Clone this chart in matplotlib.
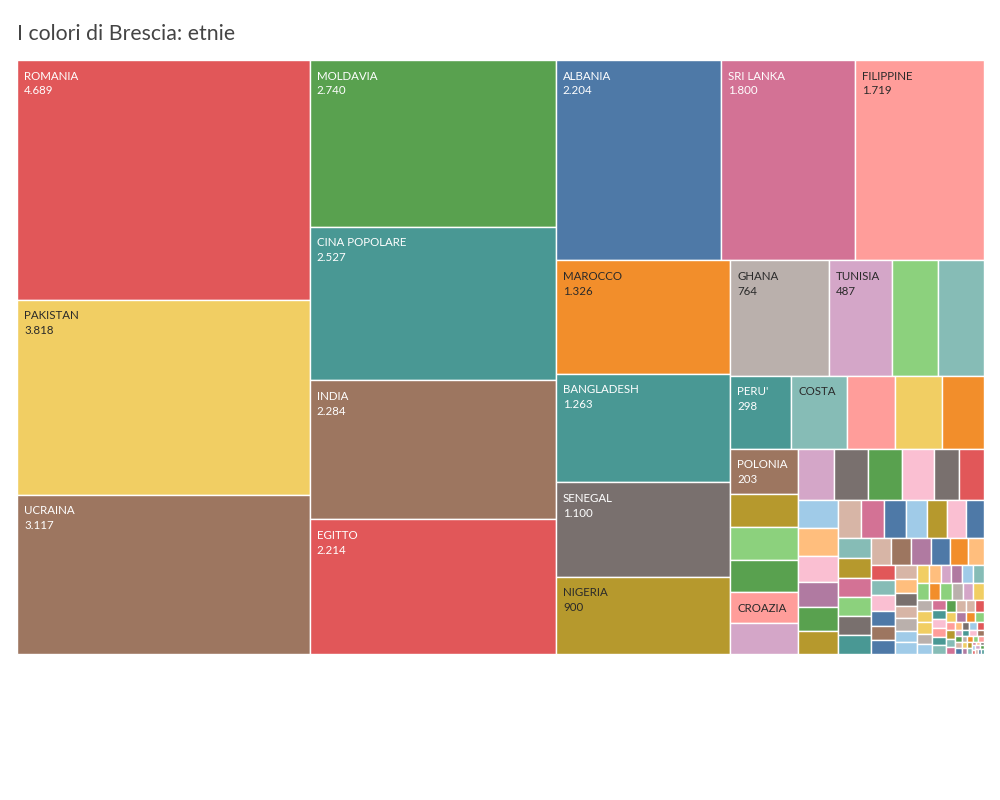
import matplotlib
matplotlib.use("Agg")
import matplotlib.pyplot as plt
from matplotlib.patches import Rectangle

plt.rcParams['font.family'] = ['Lato', 'DejaVu Sans']

TITLE = "I colori di Brescia: etnie"

# tiles in descending order (as Tableau lays them out)
names = [
    "ROMANIA", "PAKISTAN", "UCRAINA", "MOLDAVIA", "CINA POPOLARE", "INDIA",
    "EGITTO", "ALBANIA", "SRI LANKA", "FILIPPINE", "MAROCCO", "BANGLADESH",
    "SENEGAL", "NIGERIA", "GHANA", "TUNISIA", "", "", "PERU'", "COSTA",
    "", "", "", "POLONIA", "", "", "", "CROAZIA", "",
]
values = [
    4689, 3818, 3117, 2740, 2527, 2284,
    2214, 2204, 1800, 1719, 1326, 1263,
    1100, 900, 764, 487, 355, 354, 298, 269,
    234, 230, 205, 203, 152, 148, 144, 139, 138,
]
# small unlabelled tiles
small_values = [
    125, 118, 118, 111, 87, 87,
    75, 75, 70, 67, 64, 62,
    58, 58, 56, 53, 51, 48, 46,
    44, 44, 43, 42, 42, 41,
    36, 36, 36, 34, 31, 29,
    25, 25, 25, 25, 23, 23,
    21, 20, 19, 18, 18, 17, 17,
    14, 14, 13, 13, 13, 13,
    13, 13, 13, 13, 12, 12,
    11, 11, 11, 10, 10,
    9, 9, 8, 8, 8, 8,
    8, 8, 7, 7,
    7, 7, 6, 6, 5, 5, 5, 4, 4, 4, 4, 4, 3, 3, 3, 3, 3, 3, 3,
    2, 2, 2, 2, 2, 2, 2, 2, 1, 1, 1, 1, 1, 1, 1, 1, 1, 1,
]
name_only = {"COSTA", "CROAZIA"}

# strips as Tableau builds them: 'c' = column at the left, 'r' = row on top,
# with the number of tiles in each; whatever is left is plain squarify
strips = [('c', 3), ('c', 4), ('r', 3), ('c', 4), ('r', 4), ('r', 5), ('c', 6),
          ('r', 6), ('c', 6), ('r', 7), ('c', 6), ('r', 6), ('c', 6), ('c', 7),
          ('r', 6), ('r', 6), ('c', 5), ('c', 6), ('r', 4)]

T = {
    'blue': '#4E79A7', 'lblue': '#A0CBE8', 'orange': '#F28E2B', 'lorange': '#FFBE7D',
    'green': '#59A14F', 'lgreen': '#8CD17D', 'olive': '#B6992D', 'yellow': '#F1CE63',
    'teal': '#499894', 'lteal': '#86BCB6', 'red': '#E15759', 'pink': '#FF9D9A',
    'gray': '#79706E', 'lgray': '#BAB0AC', 'magenta': '#D37295', 'lpink': '#FABFD2',
    'purple': '#B07AA1', 'lpurple': '#D4A6C8', 'brown': '#9D7660', 'lbrown': '#D7B5A6',
}
colors = [
    'red', 'yellow', 'brown', 'green', 'teal', 'brown',
    'red', 'blue', 'magenta', 'pink', 'orange', 'teal',
    'gray', 'olive', 'lgray', 'lpurple', 'lgreen', 'lteal', 'teal', 'lteal',
    'pink', 'yellow', 'orange', 'brown', 'olive', 'lgreen', 'green', 'pink', 'lpurple',
]
small_colors = [
    'lpurple', 'gray', 'green', 'lpink', 'gray', 'red',
    'lblue', 'lorange', 'lpink', 'purple', 'green', 'olive',
    'lbrown', 'magenta', 'blue', 'lblue', 'olive', 'lpink', 'blue',
    'lteal', 'olive', 'magenta', 'lgreen', 'gray', 'teal',
    'lbrown', 'brown', 'purple', 'blue', 'orange', 'lorange',
    'red', 'lteal', 'lpink', 'blue', 'brown', 'blue',
    'lbrown', 'lorange', 'gray', 'lbrown', 'lgray', 'lblue', 'lblue',
    'yellow', 'lorange', 'lpurple', 'purple', 'lblue', 'lteal',
    'lgreen', 'orange', 'lgreen', 'lgray', 'lpurple', 'yellow',
    'lgray', 'yellow', 'yellow', 'lgray', 'lblue',
    'magenta', 'teal', 'lpink', 'pink', 'teal', 'lteal',
    'green', 'lbrown', 'lbrown', 'red',
]
palette_cycle = ['yellow', 'purple', 'orange', 'lgreen', 'pink', 'olive', 'lteal',
                 'magenta', 'lorange', 'gray', 'lblue', 'red', 'lpurple', 'green',
                 'lbrown', 'blue', 'teal', 'lpink', 'brown', 'lgray']

white_text = {'red', 'green', 'blue', 'magenta', 'teal', 'brown', 'gray', 'purple'}


# --- strip / squarified treemap ---
def strip_col(sizes, x, y, dx, dy):
    # vertical strip on the left, tiles stacked top to bottom
    width = sum(sizes) / dy
    rects = []
    for s in sizes:
        rects.append((x, y, width, s / width))
        y += s / width
    return rects, (x + width, y - dy, dx - width, dy)


def strip_row(sizes, x, y, dx, dy):
    # horizontal strip on top, tiles left to right
    height = sum(sizes) / dx
    rects = []
    for s in sizes:
        rects.append((x, y, s / height, height))
        x += s / height
    return rects, (x - dx, y + height, dx, dy - height)


def layout(sizes, x, y, dx, dy, kind=None):
    if kind is None:
        kind = 'c' if dx >= dy else 'r'
    f = strip_col if kind == 'c' else strip_row
    return f(sizes, x, y, dx, dy)


def worst(sizes, x, y, dx, dy):
    rects, _ = layout(sizes, x, y, dx, dy)
    return max(max(w / h, h / w) for _, _, w, h in rects)


def squarify(sizes, x, y, dx, dy):
    if not sizes:
        return []
    if len(sizes) == 1:
        return layout(sizes, x, y, dx, dy)[0]
    i = 1
    while i < len(sizes) and worst(sizes[:i], x, y, dx, dy) >= worst(sizes[:i + 1], x, y, dx, dy):
        i += 1
    rects, rest_box = layout(sizes[:i], x, y, dx, dy)
    return rects + squarify(sizes[i:], *rest_box)


def treemap(sizes, box, strips):
    rects = []
    i = 0
    for kind, n in strips:
        r, box = layout(sizes[i:i + n], *box, kind=kind)
        rects += r
        i += n
    return rects + squarify(sizes[i:], *box)


all_values = values + small_values
all_names = names + [""] * len(small_values)
all_colors = colors + small_colors
while len(all_colors) < len(all_values):
    all_colors.append(palette_cycle[len(all_colors) % len(palette_cycle)])

X0, Y0, W, H = 17, 60, 967, 594
total = float(sum(all_values))
sizes = [v * W * H / total for v in all_values]
rects = treemap(sizes, (X0, Y0, W, H), strips)

fig = plt.figure(figsize=(10, 8), dpi=100)
ax = fig.add_axes([0, 0, 1, 1])
ax.set_xlim(0, 1000)
ax.set_ylim(800, 0)
ax.axis('off')

for (rx, ry, rw, rh), name, val, c in zip(rects, all_names, all_values, all_colors):
    ax.add_patch(Rectangle((rx, ry), rw, rh, facecolor=T[c], edgecolor='white', linewidth=1.0))
    if name:
        tc = 'white' if c in white_text else '#2a2a2a'
        ax.text(rx + 7, ry + 19.5, name, fontsize=8.3, color=tc, va='baseline', ha='left')
        if name not in name_only:
            label = f"{val:,}".replace(",", ".")
            ax.text(rx + 7, ry + 34.5, label, fontsize=8.3, color=tc, va='baseline', ha='left')

ax.text(17, 40, TITLE, fontsize=15.3, color='#444444', va='baseline', ha='left')

fig.savefig("out.png", dpi=100)
